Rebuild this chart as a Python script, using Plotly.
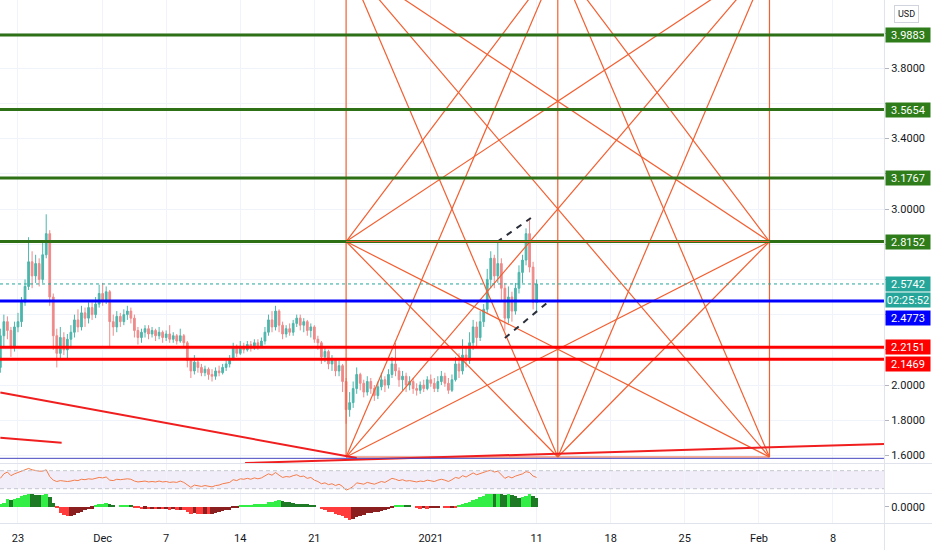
import pandas as pd
import plotly.graph_objects as go

# ---- data (8h bars, first bar opens 2020-11-21 08:00) ----
bar_start = "2020-11-21 08:00"
first_open = 2.10

close = [
    2.28, 2.36, 2.31, 2.22, 2.33, 2.36, 2.47, 2.56, 2.70, 2.62,
    2.69, 2.60, 2.74, 2.86, 2.50, 2.28, 2.18, 2.27, 2.20, 2.26,
    2.30, 2.37, 2.33, 2.41, 2.38, 2.44, 2.40, 2.46, 2.52, 2.48,
    2.53, 2.36, 2.33, 2.39, 2.36, 2.40, 2.42, 2.38, 2.31, 2.27,
    2.30, 2.32, 2.29, 2.31, 2.28, 2.30, 2.27, 2.29, 2.26, 2.28,
    2.25, 2.28, 2.24, 2.14, 2.08, 2.13, 2.10, 2.07, 2.09, 2.06,
    2.05, 2.08, 2.07, 2.10, 2.12, 2.15, 2.21, 2.18, 2.22, 2.20,
    2.23, 2.21, 2.24, 2.22, 2.25, 2.30, 2.37, 2.33, 2.42, 2.34,
    2.29, 2.32, 2.30, 2.35, 2.38, 2.34, 2.36, 2.31, 2.33, 2.26,
    2.24, 2.16, 2.19, 2.12, 2.14, 2.08, 2.11, 2.02, 1.86, 1.90,
    1.98, 2.06, 2.01, 1.96, 2.02, 1.98, 1.94, 1.99, 2.03, 2.00,
    2.06, 2.12, 2.08, 2.03, 2.05, 2.00, 2.02, 1.98, 1.97, 2.00,
    1.98, 2.03, 2.01, 1.98, 2.02, 2.05, 2.01, 1.97, 2.03, 2.12,
    2.08, 2.17, 2.14, 2.24, 2.33, 2.27, 2.36, 2.43, 2.60, 2.72,
    2.62, 2.69, 2.55, 2.38, 2.50, 2.42, 2.55, 2.64, 2.71, 2.86,
    2.67, 2.47, 2.574,
]
high = [
    2.32, 2.40, 2.39, 2.33, 2.36, 2.41, 2.50, 2.60, 2.84, 2.76,
    2.74, 2.72, 2.82, 2.97, 2.88, 2.52, 2.32, 2.33, 2.30, 2.29,
    2.34, 2.40, 2.43, 2.45, 2.44, 2.47, 2.47, 2.50, 2.57, 2.58,
    2.56, 2.54, 2.40, 2.42, 2.41, 2.43, 2.45, 2.44, 2.40, 2.33,
    2.32, 2.34, 2.34, 2.33, 2.32, 2.33, 2.31, 2.31, 2.34, 2.30,
    2.29, 2.32, 2.29, 2.25, 2.15, 2.17, 2.15, 2.12, 2.11, 2.10,
    2.09, 2.10, 2.11, 2.12, 2.14, 2.17, 2.24, 2.23, 2.25, 2.24,
    2.25, 2.25, 2.26, 2.26, 2.27, 2.33, 2.40, 2.42, 2.45, 2.43,
    2.36, 2.34, 2.35, 2.37, 2.40, 2.40, 2.38, 2.37, 2.35, 2.34,
    2.28, 2.25, 2.22, 2.20, 2.17, 2.15, 2.14, 2.12, 2.04, 1.96,
    2.02, 2.10, 2.07, 2.03, 2.05, 2.04, 2.00, 2.02, 2.07, 2.05,
    2.09, 2.16, 2.24, 2.10, 2.08, 2.07, 2.05, 2.04, 2.01, 2.02,
    2.03, 2.05, 2.06, 2.04, 2.05, 2.08, 2.07, 2.04, 2.06, 2.16,
    2.18, 2.26, 2.22, 2.30, 2.37, 2.36, 2.42, 2.46, 2.66, 2.76,
    2.74, 2.81, 2.72, 2.58, 2.56, 2.53, 2.58, 2.68, 2.74, 2.89,
    2.95, 2.70, 2.60,
]
low = [
    2.07, 2.22, 2.26, 2.16, 2.19, 2.30, 2.33, 2.45, 2.54, 2.55,
    2.58, 2.56, 2.58, 2.72, 2.45, 2.20, 2.10, 2.15, 2.17, 2.15,
    2.22, 2.27, 2.30, 2.31, 2.33, 2.35, 2.37, 2.38, 2.44, 2.45,
    2.46, 2.22, 2.28, 2.30, 2.33, 2.34, 2.37, 2.35, 2.27, 2.23,
    2.24, 2.27, 2.26, 2.27, 2.25, 2.26, 2.24, 2.25, 2.24, 2.24,
    2.23, 2.24, 2.21, 2.10, 2.04, 2.06, 2.07, 2.05, 2.05, 2.03,
    2.02, 2.03, 2.05, 2.06, 2.08, 2.10, 2.14, 2.16, 2.17, 2.18,
    2.19, 2.19, 2.20, 2.20, 2.21, 2.23, 2.28, 2.30, 2.31, 2.30,
    2.26, 2.27, 2.28, 2.28, 2.33, 2.31, 2.30, 2.28, 2.27, 2.24,
    2.20, 2.12, 2.13, 2.09, 2.08, 2.05, 2.05, 1.96, 1.78, 1.82,
    1.87, 1.95, 1.97, 1.93, 1.94, 1.95, 1.91, 1.92, 1.97, 1.96,
    1.98, 2.04, 2.05, 1.99, 1.97, 1.96, 1.97, 1.95, 1.94, 1.95,
    1.96, 1.97, 1.99, 1.96, 1.96, 2.00, 1.99, 1.95, 1.96, 2.02,
    2.04, 2.06, 2.10, 2.12, 2.20, 2.22, 2.25, 2.33, 2.41, 2.55,
    2.55, 2.58, 2.48, 2.31, 2.35, 2.36, 2.40, 2.52, 2.58, 2.68,
    2.64, 2.43, 2.42,
]
rsi = [
    53, 63, 67, 59, 63, 66, 70, 72, 75, 72,
    70, 69, 69, 72, 57, 49, 46, 48, 47, 46,
    47, 49, 48, 51, 50, 52, 51, 53, 55, 54,
    56, 49, 48, 51, 50, 51, 52, 51, 47, 45,
    46, 47, 45, 46, 45, 47, 45, 46, 44, 45,
    44, 47, 44, 38, 33, 38, 37, 35, 37, 35,
    34, 37, 38, 41, 42, 44, 50, 48, 52, 51,
    53, 51, 54, 52, 54, 58, 63, 60, 66, 60,
    55, 57, 56, 59, 61, 57, 58, 53, 55, 49,
    46, 41, 43, 39, 41, 37, 40, 35, 27, 30,
    35, 43, 42, 40, 44, 42, 40, 43, 46, 44,
    48, 53, 51, 48, 50, 47, 48, 46, 45, 47,
    46, 49, 48, 46, 49, 51, 49, 46, 50, 55,
    53, 59, 56, 61, 65, 61, 64, 66, 69, 71,
    67, 69, 62, 53, 57, 54, 58, 61, 63, 68,
    66, 58, 55,
]
macd_hist = [
    0.012, 0.020, 0.040, 0.036, 0.038, 0.044, 0.056, 0.060, 0.064, 0.062,
    0.061, 0.058, 0.060, 0.063, 0.050, 0.020, -0.005, -0.030, -0.042, -0.045,
    -0.044, -0.040, -0.032, -0.024, -0.018, -0.012, -0.009, 0.004, 0.012, 0.016,
    0.020, 0.012, 0.004, 0.000, 0.005, 0.006, 0.007, 0.005, -0.004, -0.008,
    -0.010, -0.009, -0.011, -0.010, -0.012, -0.011, -0.013, -0.012, -0.014, -0.013,
    -0.015, -0.014, -0.018, -0.026, -0.034, -0.033, -0.034, -0.035, -0.034, -0.035,
    -0.034, -0.032, -0.028, -0.022, -0.018, -0.014, -0.008, -0.004, 0.008, 0.010,
    0.010, 0.011, 0.012, 0.012, 0.014, 0.016, 0.022, 0.026, 0.030, 0.032,
    0.027, 0.025, 0.022, 0.018, 0.016, 0.014, 0.013, 0.012, 0.010, 0.006,
    0.000, -0.010, -0.016, -0.024, -0.028, -0.034, -0.040, -0.048, -0.058, -0.066,
    -0.060, -0.050, -0.045, -0.040, -0.033, -0.030, -0.028, -0.025, -0.020, -0.016,
    -0.012, -0.004, 0.005, 0.008, 0.008, 0.007, 0.006, 0.000, -0.008, -0.009,
    -0.008, -0.009, -0.008, -0.007, -0.004, 0.000, -0.004, -0.006, -0.005, -0.006,
    0.005, 0.014, 0.019, 0.026, 0.034, 0.040, 0.048, 0.056, 0.062, 0.063,
    0.062, 0.063, 0.062, 0.060, 0.062, 0.057, 0.052, 0.046, 0.048, 0.055,
    0.062, 0.056, 0.046,
]

# horizontal levels drawn on the chart
green_levels = [3.9883, 3.5654, 3.1767, 2.8152]
red_levels = [2.2151, 2.1469]
blue_level = 2.4773
last_price = 2.5742
countdown = "02:25:52"
floor_level = 1.5835

# gann box: columns (dates) x rows (prices)
gann_dates = ["2020-12-24", "2021-01-13", "2021-02-02"]
gann_prices = [1.591, 2.8152, 4.41]
gann_links = [
    ((0, 0), (0, 2)), ((1, 0), (1, 2)), ((2, 0), (2, 2)),
    ((0, 0), (2, 0)), ((0, 1), (2, 1)),
    ((0, 0), (2, 1)), ((0, 1), (2, 0)), ((0, 1), (1, 0)), ((2, 1), (1, 0)),
    ((0, 0), (1, 2)), ((0, 0), (2, 2)), ((1, 0), (0, 2)), ((1, 0), (2, 2)),
    ((2, 0), (0, 2)), ((2, 0), (1, 2)), ((0, 1), (1, 2)), ((0, 1), (2, 2)),
    ((2, 1), (0, 2)), ((2, 1), (1, 2)),
]

trend_lines = [
    (("2020-11-21 08:00", 1.958), ("2020-12-25 00:00", 1.585)),
    (("2020-11-21 08:00", 1.700), ("2020-11-27 03:00", 1.672)),
    (("2020-12-14 11:00", 1.557), ("2021-02-12 19:40", 1.665)),
]
channel_lines = [
    (("2021-01-07 06:00", 2.8125), ("2021-01-10 11:00", 2.949)),
    (("2021-01-08 00:00", 2.267), ("2021-01-12 02:00", 2.472)),
]

x_tick_dates = ["2020-11-23", "2020-12-01", "2020-12-07", "2020-12-14", "2020-12-21",
                "2021-01-01", "2021-01-11", "2021-01-18", "2021-01-25", "2021-02-01",
                "2021-02-08"]
x_tick_text = ["23", "Dec", "7", "14", "21", "2021", "11", "18", "25", "Feb", "8"]
price_ticks = [1.6, 1.8, 2.0, 2.2, 2.4, 2.6, 2.8, 3.0, 3.2, 3.4, 3.6, 3.8, 4.0]
price_tick_text = ["1.6000", "1.8000", "2.0000", "", "", "", "", "3.0000", "",
                   "3.4000", "", "3.8000", ""]

# ---- styling ----
GRID = "#f0f3fa"
SEP = "#e0e3eb"
ORANGE = "#f25f30"
GREEN = "#2e7016"
RED = "#ff0000"
BLUE = "#0000ff"
TEAL = "#26a69a"
X_END = 884 / 932

times = pd.date_range(bar_start, periods=len(close), freq="8h")
opens = [first_open] + close[:-1]

fig = go.Figure()

fig.add_trace(go.Candlestick(
    x=times, open=opens, high=high, low=low, close=close,
    increasing=dict(line=dict(color="#4db6ac", width=1), fillcolor="#4db6ac"),
    decreasing=dict(line=dict(color="#ef8a8a", width=1), fillcolor="#ef8a8a"),
    xaxis="x", yaxis="y", hoverinfo="skip",
))

# gann drawing, one trace with gaps between the segments
gx, gy = [], []
for (c0, r0), (c1, r1) in gann_links:
    gx += [gann_dates[c0], gann_dates[c1], None]
    gy += [gann_prices[r0], gann_prices[r1], None]
fig.add_trace(go.Scatter(x=gx, y=gy, mode="lines", line=dict(color=ORANGE, width=1.2),
                         connectgaps=False, xaxis="x", yaxis="y", hoverinfo="skip"))

for (xa, ya), (xb, yb) in trend_lines:
    fig.add_trace(go.Scatter(x=[xa, xb], y=[ya, yb], mode="lines",
                             line=dict(color="#f01e1e", width=2), hoverinfo="skip"))

for (xa, ya), (xb, yb) in channel_lines:
    fig.add_trace(go.Scatter(x=[xa, xb], y=[ya, yb], mode="lines",
                             line=dict(color="#2a2e39", width=2, dash="6px,6px"),
                             hoverinfo="skip"))

# rsi pane
fig.add_trace(go.Scatter(x=times, y=rsi, mode="lines", line=dict(color="#f57c4a", width=1),
                         xaxis="x2", yaxis="y2", hoverinfo="skip"))

# macd histogram, 4 colours
bar_colors = []
for i, v in enumerate(macd_hist):
    prev = macd_hist[i - 1] if i else v
    if v >= 0:
        bar_colors.append("#33ee44" if v >= prev else "#1f7a26")
    else:
        bar_colors.append("#ff3b3b" if v <= prev else "#8b1e1e")
fig.add_trace(go.Bar(x=times, y=macd_hist, marker=dict(color=bar_colors, line=dict(width=0)),
                     width=8 * 3600 * 1000, xaxis="x3", yaxis="y3", hoverinfo="skip"))

shapes = []


def hline(level, color, width, dash="solid"):
    shapes.append(dict(type="line", xref="x domain", yref="y", x0=0, x1=1, y0=level, y1=level,
                       line=dict(color=color, width=width, dash=dash)))


hline(floor_level, "#4646c0", 1)
hline(last_price, TEAL, 1, "dot")
for lv in green_levels:
    hline(lv, GREEN, 3)
for lv in red_levels:
    hline(lv, RED, 3)
hline(blue_level, BLUE, 3)

# orange mid line of the box goes over the green one
shapes.append(dict(type="line", xref="x", yref="y", x0=gann_dates[0], x1=gann_dates[2],
                   y0=gann_prices[1], y1=gann_prices[1], line=dict(color=ORANGE, width=1)))

# rsi band
shapes.append(dict(type="rect", xref="x2 domain", yref="y2", x0=0, x1=1, y0=30, y1=70,
                   fillcolor="rgba(126,87,194,0.1)", line=dict(width=0), layer="below"))
for lv in (30, 70):
    shapes.append(dict(type="line", xref="x2 domain", yref="y2", x0=0, x1=1, y0=lv, y1=lv,
                       line=dict(color="#c3c6ce", width=1, dash="4px,3px")))

# pane separators and price-scale border
for py in (463.5, 493.5, 523.5):
    yy = (550 - py) / 550
    shapes.append(dict(type="line", xref="paper", yref="paper", x0=0, x1=1, y0=yy, y1=yy,
                       line=dict(color=SEP, width=1)))
shapes.append(dict(type="line", xref="paper", yref="paper", x0=X_END + 0.0005,
                   x1=X_END + 0.0005, y0=0, y1=1, line=dict(color=SEP, width=1)))

annotations = []


def tag(level, text, color, shift=0):
    annotations.append(dict(
        xref="paper", yref="y", x=885 / 932, y=level, xanchor="left", yanchor="middle",
        yshift=shift, text=text, showarrow=False, bgcolor=color, width=44, height=14,
        align="center", borderpad=0, font=dict(color="white", size=11, family="Roboto"),
    ))


for lv in green_levels:
    tag(lv, f"{lv:.4f}", "#2e7d1a")
tag(last_price, f"{last_price:.4f}", TEAL)
tag(last_price, countdown, TEAL, -16)
tag(blue_level, f"{blue_level:.4f}", BLUE, -17)
tag(red_levels[0], f"{red_levels[0]:.4f}", RED)
tag(red_levels[1], f"{red_levels[1]:.4f}", RED, -5)

annotations.append(dict(
    xref="paper", yref="paper", x=906 / 932, y=(550 - 14) / 550, xanchor="center",
    yanchor="middle", text="USD", showarrow=False, bgcolor="white", bordercolor="#d1d4dc",
    borderwidth=1, borderpad=3, font=dict(size=9, color="#131722", family="Roboto"),
))

x_range = ["2020-11-21 07:13", "2021-02-12 19:40"]
xcommon = dict(type="date", showgrid=True, gridcolor=GRID, gridwidth=1, tickvals=x_tick_dates,
               zeroline=False, showline=False, domain=[0, X_END])

fig.update_layout(
    width=932, height=550, margin=dict(l=0, r=0, t=0, b=0),
    paper_bgcolor="white", plot_bgcolor="white", showlegend=False,
    font=dict(family="Roboto", size=11, color="#131722"),
    shapes=shapes, annotations=annotations, bargap=0,
    xaxis=dict(**xcommon, anchor="y", range=x_range, showticklabels=False,
               rangeslider=dict(visible=False)),
    xaxis2=dict(**xcommon, anchor="y2", matches="x", showticklabels=False),
    xaxis3=dict(**xcommon, anchor="y3", matches="x", ticktext=x_tick_text,
                ticks="outside", ticklen=5, tickcolor="rgba(0,0,0,0)"),
    yaxis=dict(domain=[87 / 550, 1.0], range=[1.557, 4.1875], side="right", anchor="x",
               tickvals=price_ticks, ticktext=price_tick_text, showgrid=True, gridcolor=GRID,
               zeroline=False, ticks="outside", ticklen=4, tickcolor="#b2b5be"),
    yaxis2=dict(domain=[57 / 550, 86 / 550], range=[20.44, 84.9], anchor="x2",
                showticklabels=False, showgrid=False, zeroline=False),
    yaxis3=dict(domain=[27 / 550, 56 / 550], range=[-0.0815, 0.0635], side="right",
                anchor="x3", tickvals=[0], ticktext=["0.0000"], showgrid=False,
                zeroline=False, ticks="outside", ticklen=4, tickcolor="#b2b5be"),
)

# the page's default body margin would push the 932x550 figure off the window
fig.write_html("out.html", config={"displayModeBar": False},
               post_script="document.body.style.margin='0';")
